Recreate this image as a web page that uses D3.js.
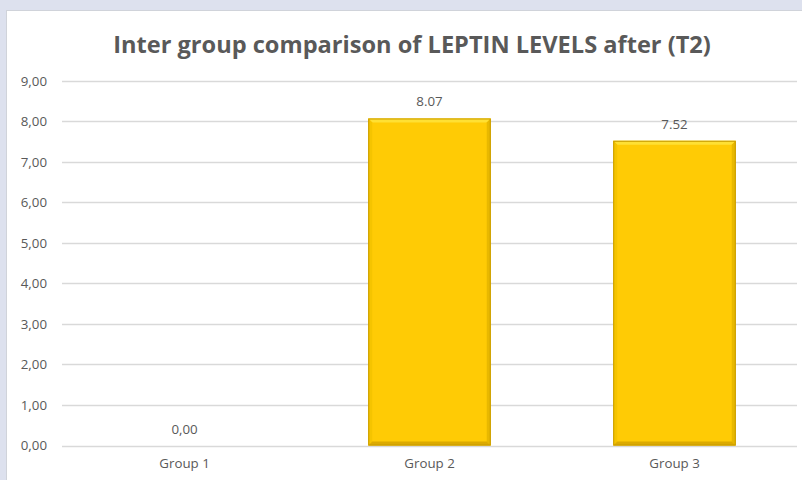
<!DOCTYPE html>
<html><head><meta charset="utf-8">
<script src="https://cdn.jsdelivr.net/npm/d3@7"></script>
<style>body{margin:0;background:#dde1ee;}svg{display:block;}</style>
</head><body>
<svg id="c" width="802" height="480"></svg>
<script>
const categories = ["Group 1", "Group 2", "Group 3"];
const values = [0.00, 8.07, 7.52];
const valueLabels = ["0,00", "8.07", "7.52"];
const yTicks = [0, 1, 2, 3, 4, 5, 6, 7, 8, 9];
const yTickLabels = ["0,00","1,00","2,00","3,00","4,00","5,00","6,00","7,00","8,00","9,00"];
const title = "Inter group comparison of LEPTIN LEVELS after (T2)";

const svg = d3.select("#c");
const W = 802, H = 480;
const font = "'Open Sans', 'Liberation Sans', sans-serif";
const textCol = "#595959";

svg.append("rect").attr("x", 0).attr("y", 0).attr("width", W).attr("height", H).attr("fill", "#dde1ee");
svg.append("rect").attr("x", 6.5).attr("y", 10.5).attr("width", W).attr("height", H)
  .attr("fill", "#ffffff").attr("stroke", "#d0d3da").attr("stroke-width", 1);

const m = {left: 62, right: 797, top: 80.8, bottom: 445.5};
const x = d3.scaleBand().domain(categories).range([m.left, m.right]).paddingInner(0.5).paddingOuter(0.25);
const y = d3.scaleLinear().domain([0, 9]).range([m.bottom, m.top]);

// gridlines
svg.append("g").selectAll("line").data(yTicks).join("line")
  .attr("x1", m.left).attr("x2", m.right)
  .attr("y1", d => Math.round(y(d)) + 0.5).attr("y2", d => Math.round(y(d)) + 0.5)
  .attr("stroke", "#d9d9d9").attr("stroke-width", 1.3);

// y axis labels
const yAxis = d3.axisLeft(y).tickValues(yTicks).tickFormat((d, i) => yTickLabels[i]).tickSize(0).tickPadding(0);
const ya = svg.append("g").attr("transform", `translate(${47},0)`).call(yAxis);
ya.select(".domain").remove();
ya.selectAll("text").attr("font-family", font).attr("font-size", 13.3).attr("fill", textCol);

// x axis labels
const xAxis = d3.axisBottom(x).tickSize(0).tickPadding(0);
const xa = svg.append("g").attr("transform", `translate(0,${459})`).call(xAxis);
xa.select(".domain").remove();
xa.selectAll("text").attr("font-family", font).attr("font-size", 13.3).attr("fill", textCol);

// bars with bevel
const bars = svg.append("g").selectAll("g").data(values.map((v, i) => ({v, c: categories[i], i}))).join("g");
bars.each(function(d) {
  if (d.v <= 0) return;
  const g = d3.select(this);
  const x0 = x(d.c), w = x.bandwidth(), y0 = y(d.v), h = y(0) - y(d.v);
  const b = 4;
  g.append("rect").attr("x", x0).attr("y", y0).attr("width", w).attr("height", h).attr("fill", "#ffcb05");
  g.append("polygon").attr("points", [[x0, y0],[x0+w, y0],[x0+w-b, y0+b],[x0+b, y0+b]].join(" ")).attr("fill", "#ffe033");
  g.append("polygon").attr("points", [[x0, y0],[x0+b, y0+b],[x0+b, y0+h-b],[x0, y0+h]].join(" ")).attr("fill", "#f5c400");
  g.append("polygon").attr("points", [[x0+w, y0],[x0+w-b, y0+b],[x0+w-b, y0+h-b],[x0+w, y0+h]].join(" ")).attr("fill", "#e8b800");
  g.append("polygon").attr("points", [[x0, y0+h],[x0+b, y0+h-b],[x0+w-b, y0+h-b],[x0+w, y0+h]].join(" ")).attr("fill", "#dcaa00");
  g.append("rect").attr("x", x0 + 0.5).attr("y", y0 + 0.5).attr("width", w - 1).attr("height", h - 1)
    .attr("fill", "none").attr("stroke", "#c79a00").attr("stroke-width", 1);
});

// value labels
svg.append("g").selectAll("text").data(values).join("text")
  .attr("x", (d, i) => x(categories[i]) + x.bandwidth() / 2)
  .attr("y", d => y(d) - 12)
  .attr("text-anchor", "middle")
  .attr("font-family", font).attr("font-size", 13.3).attr("fill", textCol)
  .text((d, i) => valueLabels[i]);

// title
svg.append("text").attr("x", 412).attr("y", 53).attr("text-anchor", "middle")
  .attr("font-family", font).attr("font-size", 23.6).attr("font-weight", "bold").attr("fill", textCol)
  .text(title);
</script>
</body></html>
